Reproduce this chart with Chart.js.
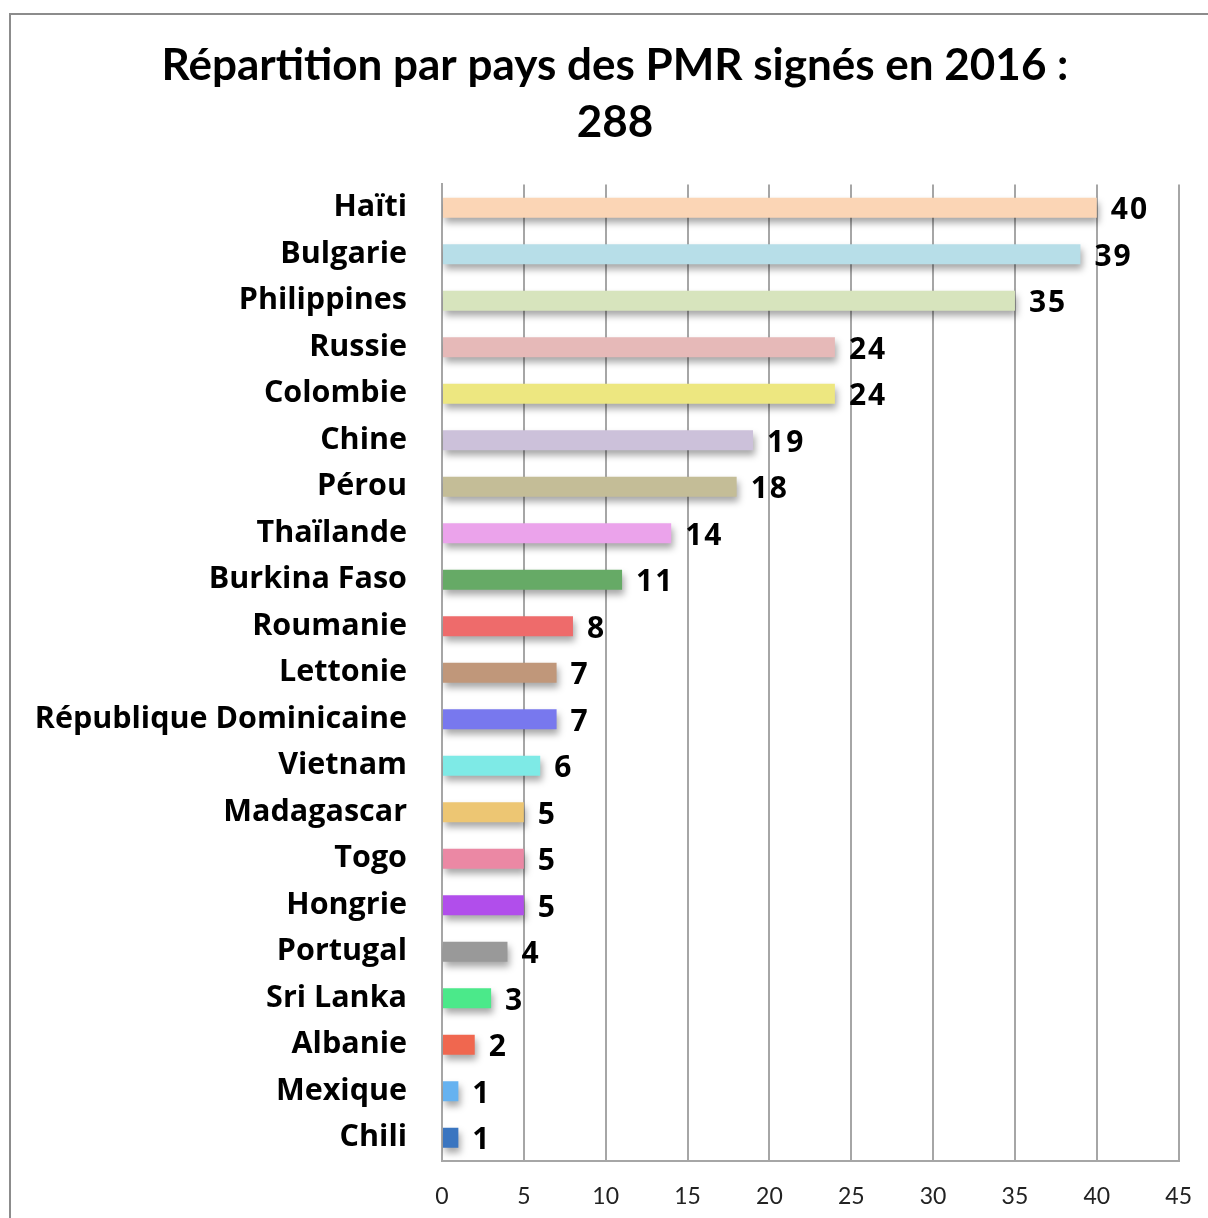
<!DOCTYPE html>
<html>
<head>
<meta charset="utf-8">
<script src="https://cdn.jsdelivr.net/npm/chart.js@4/dist/chart.umd.min.js"></script>
<style>
  html, body { margin: 0; padding: 0; background: #fff; overflow: hidden; }
  #frame {
    position: absolute; left: 9px; top: 13px;
    width: 1205px; height: 1205px;
    border-left: 2px solid #8c8c8c; border-top: 2px solid #8c8c8c;
  }
  #chart { display: block; }
</style>
</head>
<body>
<div id="frame"><canvas id="chart" width="1203" height="1203"></canvas></div>
<script>
const pays = ["Haïti", "Bulgarie", "Philippines", "Russie", "Colombie", "Chine", "Pérou", "Thaïlande",
  "Burkina Faso", "Roumanie", "Lettonie", "République Dominicaine", "Vietnam", "Madagascar", "Togo",
  "Hongrie", "Portugal", "Sri Lanka", "Albanie", "Mexique", "Chili"];
const pmr = [40, 39, 35, 24, 24, 19, 18, 14, 11, 8, 7, 7, 6, 5, 5, 5, 4, 3, 2, 1, 1];
const couleurs = ["#fbd5b5", "#b7dee8", "#d7e4bd", "#e6b9b8", "#ede780", "#ccc1da", "#c4bd97", "#eba3eb",
  "#66aa66", "#ee6b6b", "#c0977a", "#7878ee", "#7eeae6", "#edc673", "#eb88a4",
  "#b14eeb", "#999999", "#4be98a", "#f0674f", "#66b2f0", "#3a75c0"];
const graduations = [0, 5, 10, 15, 20, 25, 30, 35, 40, 45];
const titre = ["Répartition par pays des PMR signés en 2016 :", "288"];

const policeTitre = "Lato, 'Open Sans', sans-serif";
const police = "'Open Sans', Lato, sans-serif";

// ombre sous les barres
const ombre = {
  id: "ombre",
  beforeDatasetsDraw(chart) {
    const ctx = chart.ctx;
    ctx.save();
    ctx.shadowColor = "rgba(0,0,0,0.35)";
    ctx.shadowBlur = 7;
    ctx.shadowOffsetX = 2;
    ctx.shadowOffsetY = 5;
  },
  afterDatasetsDraw(chart) {
    chart.ctx.restore();
  }
};

// valeurs au bout des barres
const etiquettes = {
  id: "etiquettes",
  afterDatasetsDraw(chart) {
    const ctx = chart.ctx;
    const meta = chart.getDatasetMeta(0);
    ctx.save();
    ctx.font = "bold 30px " + police;
    ctx.letterSpacing = "2px";
    ctx.fillStyle = "#000";
    ctx.textAlign = "left";
    ctx.textBaseline = "middle";
    meta.data.forEach((bar, i) => {
      ctx.fillText(pmr[i], bar.x + 14, bar.y + 3);
    });
    ctx.restore();
  }
};

new Chart(document.getElementById("chart"), {
  type: "bar",
  data: {
    labels: pays,
    datasets: [{
      data: pmr,
      backgroundColor: couleurs,
      borderWidth: 0,
      categoryPercentage: 1,
      barPercentage: 0.43
    }]
  },
  plugins: [ombre, etiquettes],
  options: {
    indexAxis: "y",
    responsive: false,
    animation: false,
    layout: { padding: { left: 5, right: 0, top: 0, bottom: 0 } },
    plugins: {
      legend: { display: false },
      tooltip: { enabled: false },
      title: {
        display: true,
        text: titre,
        color: "#000",
        font: { family: policeTitre, size: 44, weight: "bold", lineHeight: 1.3 },
        padding: { top: 22, bottom: 33 }
      }
    },
    scales: {
      x: {
        min: 0,
        max: 45,
        afterBuildTicks: (s) => { s.ticks = graduations.map(v => ({ value: v })); },
        afterFit: (s) => { s.height = 57; },
        grid: { color: "#a6a6a6", lineWidth: 2, drawTicks: false },
        border: { color: "#a6a6a6", width: 2 },
        ticks: { color: "#222", padding: 22, font: { family: policeTitre, size: 23 } }
      },
      y: {
        afterFit: (s) => { s.width = 426; },
        grid: { display: false, drawTicks: false },
        border: { color: "#a6a6a6", width: 2 },
        ticks: { color: "#000", padding: 35, autoSkip: false, font: { family: police, size: 30.5, weight: "bold" } }
      }
    }
  }
});
</script>
</body>
</html>
